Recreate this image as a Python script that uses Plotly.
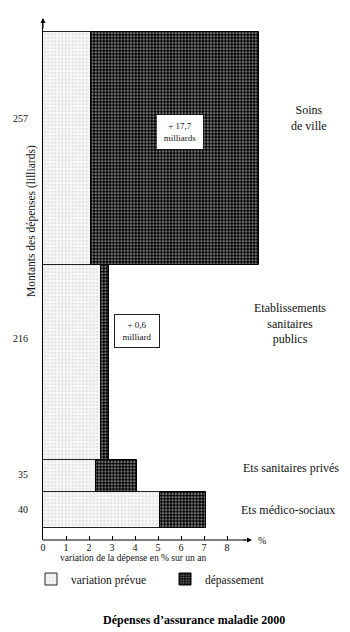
import plotly.graph_objects as go

# Health-insurance spending bands, listed from the bottom of the chart upwards
categories = ["Ets médico-sociaux", "Ets sanitaires privés",
              "Etablissements<br>sanitaires<br>publics", "Soins<br>de ville"]
amounts = [40, 35, 216, 257]            # montants des dépenses (milliards)
planned_pct = [5.1, 2.3, 2.5, 2.1]      # variation prévue (% sur un an)
overrun_pct = [2.0, 1.8, 0.35, 7.3]     # dépassement (% sur un an)
overrun_notes = [None, None, "+ 0,6<br>milliard", "+ 17,7<br>milliards"]
x_ticks = [0, 1, 2, 3, 4, 5, 6, 7, 8]

# ---- layout geometry (pixels) ----
FIG_W, FIG_H = 350, 632
L, R, T, B = 43, 0, 22, 92
PW, PH = FIG_W - L - R, FIG_H - T - B
PX_PER_PCT = 23.0
Y0_PX, YTOP_PX = 528, 32                # pixel rows of amount 0 and of the total
total = sum(amounts)
units_per_px = total / (Y0_PX - YTOP_PX)
y_range = [-(T + PH - Y0_PX) * units_per_px, total + (YTOP_PX - T) * units_per_px]
x_range = [0, PW / PX_PER_PCT]


def pxx(p):
    return (p - L) / PW


def pxy(p):
    return (T + PH - p) / PH


# band geometry derived from the amounts
bottoms, centers = [], []
acc = 0
for a in amounts:
    bottoms.append(acc)
    centers.append(acc + a / 2)
    acc += a

SERIF = "Liberation Serif"

fig = go.Figure()
fig.add_trace(go.Bar(
    orientation="h", y=centers, x=planned_pct, base=[0] * len(amounts), width=amounts,
    name="variation prévue",
    marker=dict(color="#f4f4f4", line=dict(color="#222222", width=1),
                pattern=dict(shape=".", fgcolor="#b5b5b5", bgcolor="#f6f6f6",
                             size=3.5, solidity=0.18)),
    hoverinfo="skip",
))
fig.add_trace(go.Bar(
    orientation="h", y=centers, x=overrun_pct, base=planned_pct, width=amounts,
    name="dépassement",
    marker=dict(color="#000000", line=dict(color="#000000", width=1),
                pattern=dict(shape=".", fgcolor="#ffffff", bgcolor="#000000",
                             size=3.2, solidity=0.4)),
    hoverinfo="skip",
))

# amount labels on the vertical axis
tick_frac = [0.5, 0.55, 0.62, 0.63]
tick_pos = [b + f * a for b, f, a in zip(bottoms, tick_frac, amounts)]

annotations = []

# category names on the right
label_frac = [0.5, 0.75, 0.7, 0.63]
label_x_px = [288, 291, 290, 309]
for name, b, a, f, xp in zip(categories, bottoms, amounts, label_frac, label_x_px):
    annotations.append(dict(
        text=name, xref="paper", yref="y", x=pxx(xp), y=b + f * a,
        showarrow=False, xanchor="center", yanchor="middle",
        font=dict(family=SERIF, size=12, color="#111111"),
    ))

# overrun notes in white boxes
note_x = [None, None, 4.1, 5.95]
note_frac = [None, None, 0.66, 0.57]
for note, b, a, nx, nf in zip(overrun_notes, bottoms, amounts, note_x, note_frac):
    if note is None:
        continue
    boxed = "17" not in note
    annotations.append(dict(
        text=note, xref="x", yref="y", x=nx, y=b + nf * a,
        showarrow=False, xanchor="center", yanchor="middle",
        bgcolor="#ffffff", bordercolor="#222222" if boxed else "#ffffff",
        borderwidth=1, borderpad=3, width=38, height=26,
        font=dict(family=SERIF, size=9, color="#111111"),
    ))

# axis arrows
annotations.append(dict(text="", xref="paper", yref="paper", x=0, y=pxy(18),
                        ax=0, ay=12, showarrow=True, arrowhead=2, arrowsize=1,
                        arrowwidth=1, arrowcolor="#000000"))
annotations.append(dict(text="", xref="x", yref="paper", x=(252 - L) / PX_PER_PCT, y=0,
                        ax=-10, ay=0, showarrow=True, arrowhead=2, arrowsize=1,
                        arrowwidth=1, arrowcolor="#000000"))
annotations.append(dict(text="%", xref="paper", yref="paper", x=pxx(256), y=pxy(540),
                        showarrow=False, xanchor="left", yanchor="middle",
                        font=dict(family=SERIF, size=10, color="#111111")))

# axis titles
annotations.append(dict(text="variation de la dépense en % sur un an",
                        xref="paper", yref="paper", x=pxx(133), y=pxy(558),
                        showarrow=False, xanchor="center", yanchor="middle",
                        font=dict(family=SERIF, size=9.5, color="#111111")))
annotations.append(dict(text="Montants des dépenses (lilliards)",
                        xref="paper", yref="paper", x=pxx(31), y=pxy(221),
                        textangle=-90, showarrow=False, xanchor="center", yanchor="middle",
                        font=dict(family=SERIF, size=11.5, color="#111111")))

# chart title
annotations.append(dict(text="<b>Dépenses d’assurance maladie 2000</b>",
                        xref="paper", yref="paper", x=pxx(194), y=pxy(620),
                        showarrow=False, xanchor="center", yanchor="middle",
                        font=dict(family=SERIF, size=12, color="#000000")))

fig.update_layout(
    width=FIG_W, height=FIG_H,
    margin=dict(l=L, r=R, t=T, b=B, pad=0, autoexpand=False),
    paper_bgcolor="#ffffff", plot_bgcolor="#ffffff",
    barmode="overlay", bargap=0,
    showlegend=True,
    legend=dict(orientation="h", x=pxx(31), y=pxy(579), xanchor="left", yanchor="middle",
                font=dict(family=SERIF, size=11.5, color="#111111"),
                entrywidth=89, bgcolor="rgba(0,0,0,0)", traceorder="normal"),
    xaxis=dict(range=x_range, showgrid=False, zeroline=False, showline=False,
               tickvals=x_ticks, ticktext=[str(t) for t in x_ticks],
               ticks="inside", ticklen=4, tickwidth=1, tickcolor="#000000",
               tickfont=dict(family=SERIF, size=10, color="#111111"),
               fixedrange=True),
    yaxis=dict(range=y_range, showgrid=False, zeroline=False, showline=True,
               linecolor="#000000", linewidth=1,
               tickvals=tick_pos, ticktext=[str(a) for a in amounts],
               ticks="", ticklabelstandoff=12,
               tickfont=dict(family=SERIF, size=10, color="#111111"),
               fixedrange=True),
    annotations=annotations,
    shapes=[dict(type="line", xref="x", yref="paper", x0=0, x1=(246 - L) / PX_PER_PCT,
                 y0=0, y1=0, line=dict(color="#000000", width=1))],
)

fig.write_html("out.html")
